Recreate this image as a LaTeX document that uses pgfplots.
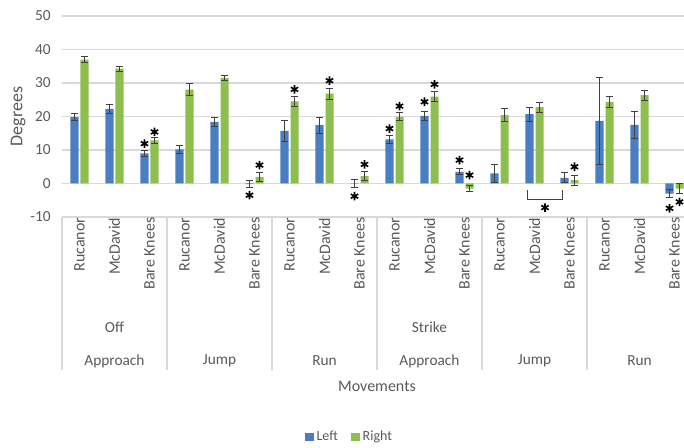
\documentclass[border=0pt]{standalone}
\usepackage{pgfplots}
\pgfplotsset{compat=1.18}
\usepackage{fontspec}
\setmainfont{Carlito}
\definecolor{barblue}{HTML}{4A7EC2}
\definecolor{bargreen}{HTML}{8DBE4F}
\definecolor{txt}{HTML}{595959}
\definecolor{gridc}{HTML}{D9D9D9}
\definecolor{errc}{HTML}{404040}

\begin{document}
\begin{tikzpicture}[x=1pt,y=1pt]
\begin{axis}[
  at={(0,0)}, anchor=south west,
  scale only axis, width=472.5pt, height=150.75pt,
  xmin=-0.5, xmax=17.5, ymin=-10, ymax=50,
  ytick={-10,0,10,20,30,40,50},
  xtick={0,...,17},
  xticklabels={Rucanor,McDavid,Bare Knees,Rucanor,McDavid,Bare Knees,Rucanor,McDavid,Bare Knees,Rucanor,McDavid,Bare Knees,Rucanor,McDavid,Bare Knees,Rucanor,McDavid,Bare Knees},
  x tick label style={rotate=90, anchor=east, font=\fontsize{12}{14}\selectfont, text=txt},
  xticklabel shift=-3pt,
  y tick label style={font=\fontsize{11.5}{13}\selectfont, text=txt, xshift=-5pt},
  /pgf/number format/assume math mode=true,
  ylabel={Degrees},
  ylabel style={at={(axis description cs:-0.0698,0.5)}, anchor=center, font=\fontsize{13.5}{15}\selectfont, text=txt},
  ymajorgrids, major grid style={gridc, line width=0.8pt},
  axis line style={draw=none},
  tick style={draw=none},
  clip=false,
  legend style={at={(0.457,-1.0945)}, anchor=center, draw=none, fill=none, legend columns=2, font=\fontsize{10.5}{12}\selectfont, text=txt, /tikz/every even column/.append style={column sep=8pt}},
  legend image code/.code={\fill[#1] (0pt,-3.3pt) rectangle (6.6pt,3.3pt);},
]
% Left
\addplot[ybar, bar width=0.229, bar shift=0pt, fill=barblue, draw=none,
  error bars/.cd, y dir=both, y explicit,
  error bar style={errc, line width=0.6pt},
  error mark options={errc, line width=0.6pt, mark size=2.5pt, rotate=90}]
coordinates {
(-0.143,19.8) +- (0,1.0)
(0.857,22.3) +- (0,1.3)
(1.857,9.0) +- (0,0.8)
(2.857,10.2) +- (0,1.3)
(3.857,18.4) +- (0,1.3)
(4.857,-0.2) +- (0,1.1)
(5.857,15.7) +- (0,3.0)
(6.857,17.4) +- (0,2.4)
(7.857,0.1) +- (0,1.2)
(8.857,13.2) +- (0,1.3)
(9.857,20.2) +- (0,1.4)
(10.857,3.5) +- (0,0.9)
(11.857,3.0) +- (0,2.8)
(12.857,20.7) +- (0,2.1)
(13.857,1.7) +- (0,1.5)
(14.857,18.7) +- (0,13.0)
(15.857,17.5) +- (0,3.9)
(16.857,-3.0) +- (0,1.2)
};
\addlegendentry{Left}
% Right
\addplot[ybar, bar width=0.229, bar shift=0pt, fill=bargreen, draw=none,
  error bars/.cd, y dir=both, y explicit,
  error bar style={errc, line width=0.6pt},
  error mark options={errc, line width=0.6pt, mark size=2.5pt, rotate=90}]
coordinates {
(0.143,37.0) +- (0,0.8)
(1.143,34.3) +- (0,0.7)
(2.143,12.9) +- (0,0.8)
(3.143,28.0) +- (0,1.8)
(4.143,31.5) +- (0,0.8)
(5.143,2.0) +- (0,1.3)
(6.143,24.5) +- (0,1.5)
(7.143,26.8) +- (0,1.7)
(8.143,2.2) +- (0,1.3)
(9.143,19.9) +- (0,1.2)
(10.143,25.9) +- (0,1.5)
(11.143,-1.5) +- (0,1.0)
(12.143,20.4) +- (0,2.0)
(13.143,22.8) +- (0,1.5)
(14.143,1.0) +- (0,1.5)
(15.143,24.4) +- (0,1.7)
(16.143,26.4) +- (0,1.5)
(17.143,-1.5) +- (0,1.5)
};
\addlegendentry{Right}
% significance stars
\addplot[only marks, mark=asterisk, mark size=3.2pt, mark options={black, line width=1.2pt}, forget plot]
coordinates {
(1.857,11.9) (2.143,15.4)
(4.857,-3.5) (5.143,5.5)
(6.143,28.1) (7.143,30.7)
(7.857,-3.8) (8.143,5.7)
(8.857,16.4) (9.143,23.1)
(9.857,24.4) (10.143,29.6)
(10.857,7.0) (11.143,2.5)
(14.143,5.0) (13.3,-7.2)
(16.857,-7.4) (17.143,-5.5)
};
% bracket
\addplot[errc, line width=0.8pt, mark=none, forget plot]
coordinates {(12.806,-1.8) (12.806,-4.8) (13.806,-4.8) (13.806,-1.8)};
% category separators
\draw[gridc, line width=0.8pt] (axis cs:-0.5,-10) -- (axis cs:-0.5,-55.7);
\draw[gridc, line width=0.8pt] (axis cs:2.5,-10) -- (axis cs:2.5,-55.7);
\draw[gridc, line width=0.8pt] (axis cs:5.5,-10) -- (axis cs:5.5,-55.7);
\draw[gridc, line width=0.8pt] (axis cs:8.5,-10) -- (axis cs:8.5,-55.7);
\draw[gridc, line width=0.8pt] (axis cs:11.5,-10) -- (axis cs:11.5,-55.7);
\draw[gridc, line width=0.8pt] (axis cs:14.5,-10) -- (axis cs:14.5,-55.7);
\draw[gridc, line width=0.8pt] (axis cs:17.5,-10) -- (axis cs:17.5,-55.7);
\node[text=txt, font=\fontsize{11.5}{13}\selectfont] at (axis cs:1,-42.8) {Off};
\node[text=txt, font=\fontsize{11.5}{13}\selectfont] at (axis cs:10,-42.8) {Strike};
\node[text=txt, font=\fontsize{11.5}{13}\selectfont] at (axis cs:1,-53) {Approach};
\node[text=txt, font=\fontsize{11.5}{13}\selectfont] at (axis cs:4,-53) {Jump};
\node[text=txt, font=\fontsize{11.5}{13}\selectfont] at (axis cs:7,-53) {Run};
\node[text=txt, font=\fontsize{11.5}{13}\selectfont] at (axis cs:10,-53) {Approach};
\node[text=txt, font=\fontsize{11.5}{13}\selectfont] at (axis cs:13,-53) {Jump};
\node[text=txt, font=\fontsize{11.5}{13}\selectfont] at (axis cs:16,-53) {Run};
\node[text=txt, font=\fontsize{12}{14}\selectfont] at (axis cs:8.5,-60.7) {Movements};
\end{axis}
\pgfresetboundingbox
\path (-46.5,-173.25) rectangle (466.5,162.75);
\end{tikzpicture}
\end{document}
